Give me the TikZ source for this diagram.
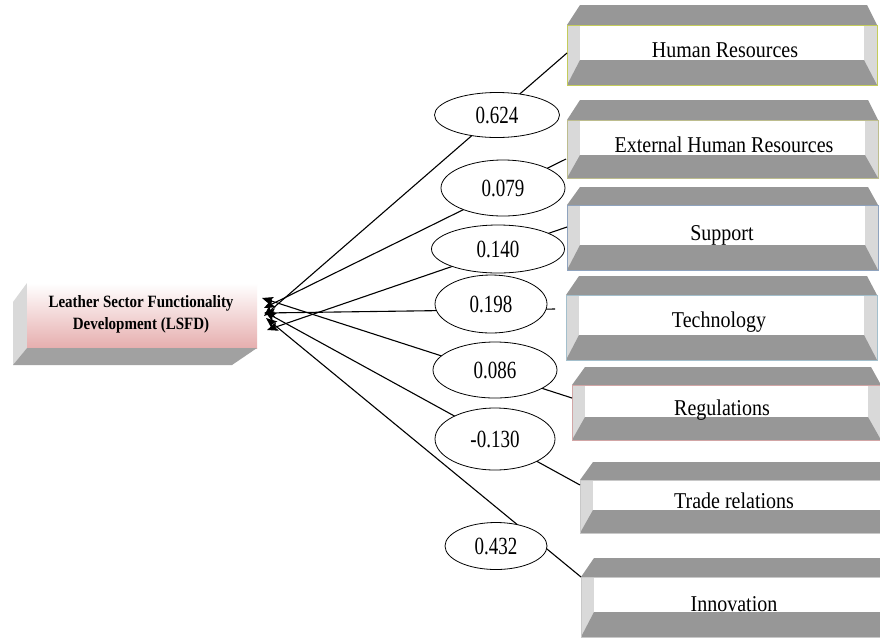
\documentclass[tikz,border=0pt]{standalone}
\usepackage{fontspec}
\setmainfont{Liberation Serif}
\usepackage{graphicx}
\usetikzlibrary{shapes.geometric,arrows.meta}
\definecolor{bandgrey}{HTML}{979797}
\definecolor{sidegrey}{HTML}{D9D9D9}
\definecolor{pinkface}{HTML}{E6AEAE}
\definecolor{bdHR}{HTML}{C4CC5A}
\definecolor{bdEHR}{HTML}{BDBD8E}
\definecolor{bdSup}{HTML}{8FA3BE}
\definecolor{bdTech}{HTML}{A3BFCC}
\definecolor{bdReg}{HTML}{D2A6A6}
\definecolor{bdGrey}{HTML}{C8C8C8}
\newcommand\vstretch[2]{\scalebox{1}[#1]{#2}}
% #1 L, #2 R, #3 T, #4 T1, #5 T2, #6 B, #7 border colour
\newcommand\bevelbox[7]{%
  \fill[sidegrey] (#1,#4) rectangle (#2,#6);
  \fill[white] (#1+13,#4) rectangle (#2-13,#5);
  \fill[bandgrey] (#1+13,#5) -- (#2-13,#5) -- (#2,#6) -- (#1,#6) -- cycle;
  \fill[bandgrey] (#1+13,#3) -- (#2-10,#3) -- (#2,#4) -- (#1,#4) -- cycle;
  \draw[#7, line width=1pt] (#1,#4) rectangle (#2,#6);
}
\tikzset{
  lbl/.style={inner sep=0pt, anchor=base, font=\fontsize{20}{24}\selectfont},
  val/.style={ellipse, draw=black, line width=0.8pt, fill=white, inner sep=0pt,
              font=\fontsize{19}{22}\selectfont},
  conn/.style={line width=1.1pt, black, -{Stealth[length=11pt,width=9pt,inset=2.5pt]}},
  lsfdtxt/.style={inner sep=0pt, align=center, font=\fontsize{15}{22}\selectfont\bfseries}
}
\begin{document}
\begin{tikzpicture}[x=1pt,y=-1pt]
\useasboundingbox (0,0) rectangle (880,638);
\fill[white] (0,0) rectangle (880,638);
\begin{scope}
\clip (0,0) rectangle (880,638);
% ---- LSFD box ----
\fill[sidegrey] (13,302) -- (27,283) -- (27,348) -- (13,365) -- cycle;
\shade[top color=white, bottom color=pinkface] (27,283) rectangle (257,348);
\fill[bandgrey!90!white] (27,348) -- (257,348) -- (232,365) -- (13,365) -- cycle;
\node[lsfdtxt] (lsfd) at (141,314)
  {\vstretch{1.15}{Leather Sector Functionality}\\\vstretch{1.15}{Development (LSFD)}};
% ---- right boxes ----
\bevelbox{567}{877}{5}{25}{60}{85}{bdHR}
\bevelbox{567}{878}{100}{120}{155}{178}{bdEHR}
\bevelbox{567}{878}{187}{205}{245}{270}{bdSup}
\bevelbox{566}{877}{276}{295}{335}{360}{bdTech}
\bevelbox{572}{881}{367}{385}{417}{440}{bdReg}
\bevelbox{580}{893}{462}{480}{510}{533}{bdGrey}
\bevelbox{581}{893}{558}{577}{612}{637}{bdGrey}
\node[lbl] (hr)    at (725,57)  {\vstretch{1.13}{Human Resources}};
\node[lbl] (ehr)   at (724,152) {\vstretch{1.13}{External Human Resources}};
\node[lbl] (sup)   at (722,240) {\vstretch{1.13}{Support}};
\node[lbl] (tech)  at (719,327) {\vstretch{1.13}{Technology}};
\node[lbl] (reg)   at (722,415) {\vstretch{1.13}{Regulations}};
\node[lbl] (trade) at (734,508) {\vstretch{1.13}{Trade relations}};
\node[lbl] (innov) at (734,611) {\vstretch{1.13}{Innovation}};
\end{scope}
% ---- connector end points ----
\coordinate (hrE)    at (567,53);
\coordinate (ehrE)   at (566,159);
\coordinate (supE)   at (567,227);
\coordinate (techE)  at (555,309);
\coordinate (regE)   at (572,398);
\coordinate (tradeE) at (580,485);
\coordinate (innovE) at (581,577);
% ---- arrow tips at LSFD ----
\coordinate (tHR)    at (264,316);
\coordinate (tEHR)   at (264,308);
\coordinate (tSup)   at (267,330);
\coordinate (tTech)  at (264,313);
\coordinate (tReg)   at (262,298);
\coordinate (tTrade) at (265,312);
\coordinate (tInnov) at (266,318);
\draw[conn] (hrE) -- (tHR);
\draw[conn] (ehrE) -- (tEHR);
\draw[conn] (supE) -- (tSup);
\draw[conn] (techE) -- (tTech);
\draw[conn] (regE) -- (tReg);
\draw[conn] (tradeE) -- (tTrade);
\draw[conn] (innovE) -- (tInnov);
% ---- coefficient ellipses ----
\node[val, minimum width=125pt, minimum height=45pt] (v1) at (497,115) {\vstretch{1.3}{0.624}};
\node[val, minimum width=124pt, minimum height=56pt] (v2) at (503,188) {\vstretch{1.3}{0.079}};
\node[val, minimum width=133pt, minimum height=48pt] (v3) at (498,249) {\vstretch{1.3}{0.140}};
\node[val, minimum width=112pt, minimum height=58pt] (v4) at (491,304) {\vstretch{1.3}{0.198}};
\node[val, minimum width=124pt, minimum height=56pt] (v5) at (495,370) {\vstretch{1.3}{0.086}};
\node[val, minimum width=120pt, minimum height=62pt] (v6) at (495,439) {\vstretch{1.3}{-0.130}};
\node[val, minimum width=102pt, minimum height=47pt] (v7) at (496,546) {\vstretch{1.3}{0.432}};
\end{tikzpicture}
\end{document}
